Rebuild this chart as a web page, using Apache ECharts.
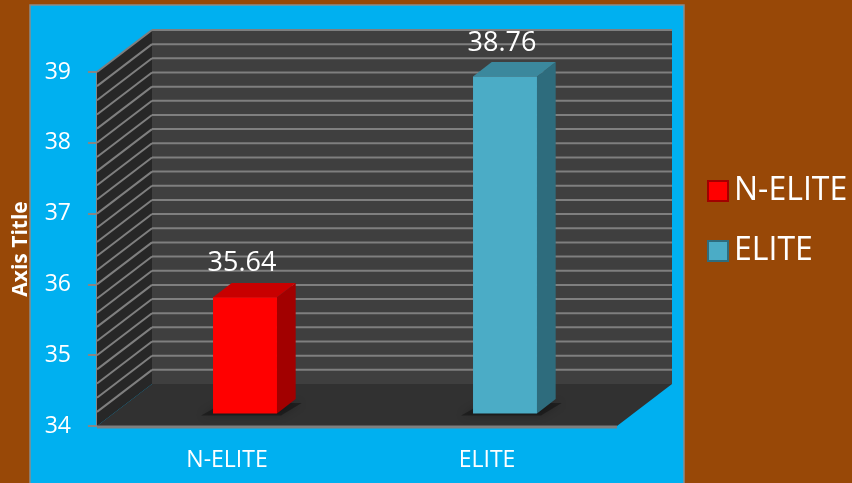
<!DOCTYPE html>
<html>
<head>
<meta charset="utf-8">
<script src="https://cdn.jsdelivr.net/npm/echarts@6/dist/echarts.min.js"></script>
<style>
html,body{margin:0;padding:0;background:#984807;}
#chart{width:852px;height:483px;}
</style>
</head>
<body>
<div id="chart"></div>
<script>
// ---- data ----
const categories = ['N-ELITE', 'ELITE'];
const seriesNames = ['N-ELITE', 'ELITE'];
const values = [35.64, 38.76];
const yTicks = [34, 35, 36, 37, 38, 39];
const axisTitle = 'Axis Title';

// ---- style constants ----
const FONT = '"Open Sans", "Noto Sans", sans-serif';
const DX = 55, DY = 42;          // full depth offset of the 3D box
const D_FRONT = 0.3, D_BACK = 0.64;
const BAR_FRAC = 0.246;
const MINOR_SPLIT = 5;
const faceColors = [
  {front: '#FF0000', top: '#C80000', side: '#A20000'},
  {front: '#4BACC6', top: '#3B889D', side: '#2E6C7D'}
];

const yMin = yTicks[0], yMax = yTicks[yTicks.length - 1];
const yInterval = yTicks[1] - yTicks[0];

const chart = echarts.init(document.getElementById('chart'));

function renderWalls(params, api) {
  const cs = params.coordSys;
  const x0 = cs.x, x1 = cs.x + cs.width;
  const yb = api.coord([0, yMin])[1];
  const yt = api.coord([0, yMax])[1];
  const children = [];
  // back wall
  children.push({type: 'rect', shape: {x: x0 + DX, y: yt - DY, width: cs.width, height: yb - yt},
    style: {fill: '#3F3F3F'}});
  // side wall
  children.push({type: 'polygon', shape: {points: [[x0, yt], [x0 + DX, yt - DY], [x0 + DX, yb - DY], [x0, yb]]},
    style: {fill: '#272727'}});
  // floor
  children.push({type: 'polygon', shape: {points: [[x0, yb], [x1, yb], [x1 + DX, yb - DY], [x0 + DX, yb - DY]]},
    style: {fill: '#313131'}});
  // gridlines
  const step = yInterval / MINOR_SPLIT;
  const n = Math.round((yMax - yMin) / step);
  for (let i = 1; i <= n; i++) {
    const v = yMin + i * step;
    const y = api.coord([0, v])[1];
    children.push({type: 'line', shape: {x1: x0, y1: y, x2: x0 + DX, y2: y - DY},
      style: {stroke: '#7F7F7F', lineWidth: 2}});
    children.push({type: 'line', shape: {x1: x0 + DX, y1: y - DY, x2: x1 + DX, y2: y - DY},
      style: {stroke: '#7F7F7F', lineWidth: 2}});
  }
  // floor front edge
  children.push({type: 'line', shape: {x1: x0, y1: yb + 1, x2: x1, y2: yb + 1},
    style: {stroke: '#7F7F7F', lineWidth: 3}});
  return {type: 'group', children: children};
}

function makeBarRenderer(idx) {
  const c = faceColors[idx];
  return function (params, api) {
    const cat = api.value(0), v = api.value(1);
    const top = api.coord([cat, v]);
    const base = api.coord([cat, yMin]);
    const band = api.size([1, 0])[0];
    const w = band * BAR_FRAC;
    const fx0 = top[0] - w / 2 + D_FRONT * DX + 1.5, fx1 = fx0 + w;
    const fyTop = top[1] - D_FRONT * DY, fyBot = base[1] - D_FRONT * DY;
    const ddx = (D_BACK - D_FRONT) * DX, ddy = (D_BACK - D_FRONT) * DY;
    return {type: 'group', children: [
      {type: 'polygon', shape: {points: [[fx0 - 12, fyBot + 2], [fx1 + 4, fyBot + 2], [fx1 + ddx + 6, fyBot - ddy + 4], [fx0 + ddx - 8, fyBot - ddy + 4]]},
        style: {fill: 'rgba(0,0,0,0.35)', shadowBlur: 8, shadowColor: 'rgba(0,0,0,0.6)'}},
      {type: 'polygon', shape: {points: [[fx1, fyTop], [fx1 + ddx, fyTop - ddy], [fx1 + ddx, fyBot - ddy], [fx1, fyBot]]},
        style: {fill: c.side}},
      {type: 'polygon', shape: {points: [[fx0, fyTop], [fx0 + ddx, fyTop - ddy], [fx1 + ddx, fyTop - ddy], [fx1, fyTop]]},
        style: {fill: c.top}},
      {type: 'rect', shape: {x: fx0, y: fyTop, width: w, height: fyBot - fyTop},
        style: {fill: c.front}},
      {type: 'text', x: fx0 + w / 2 - 3, y: fyTop - 20,
        style: {text: v.toFixed(2), fill: '#FFFFFF', font: '27px ' + FONT, align: 'center', verticalAlign: 'bottom'}}
    ]};
  };
}

const option = {
  backgroundColor: '#984807',
  animation: false,
  graphic: [
    {type: 'rect', z: -10, shape: {x: 30, y: 5, width: 654, height: 500},
      style: {fill: '#00B0F0', stroke: '#8A8A8A', lineWidth: 1.5}},
    {type: 'text', z: 10, x: 21, y: 249, rotation: Math.PI / 2,
      style: {text: axisTitle, fill: '#FFFFFF', font: 'bold 21px ' + FONT, align: 'center', verticalAlign: 'middle'}}
  ],
  legend: {
    orient: 'vertical',
    left: 702,
    top: 170,
    itemWidth: 20,
    itemHeight: 20,
    itemGap: 28,
    icon: 'rect',
    data: seriesNames,
    textStyle: {color: '#FFFFFF', fontSize: 32, lineHeight: 32, fontFamily: FONT, padding: [0, 0, 0, 1]}
  },
  grid: {left: 97, top: 72, width: 520, height: 354},
  xAxis: {
    type: 'category',
    data: categories,
    axisLine: {show: false},
    axisTick: {show: false},
    axisLabel: {color: '#FFFFFF', fontSize: 23, fontFamily: FONT, margin: 23}
  },
  yAxis: {
    type: 'value',
    min: yMin,
    max: yMax,
    interval: yInterval,
    axisLine: {show: true, lineStyle: {color: '#868686', width: 2}},
    axisTick: {show: true, length: 9, lineStyle: {color: '#868686', width: 2}},
    splitLine: {show: false},
    axisLabel: {color: '#FFFFFF', fontSize: 23, fontFamily: FONT, margin: 26}
  },
  series: [
    {type: 'custom', name: '__walls', silent: true, z: 1, data: [[0, yMin]], renderItem: renderWalls},
    {type: 'custom', name: seriesNames[0], z: 3, itemStyle: {color: faceColors[0].front, borderColor: '#A20000', borderWidth: 1},
      data: [[0, values[0]]], renderItem: makeBarRenderer(0)},
    {type: 'custom', name: seriesNames[1], z: 3, itemStyle: {color: faceColors[1].front, borderColor: '#2E6C7D', borderWidth: 1},
      data: [[1, values[1]]], renderItem: makeBarRenderer(1)}
  ]
};
chart.setOption(option);
</script>
</body>
</html>
